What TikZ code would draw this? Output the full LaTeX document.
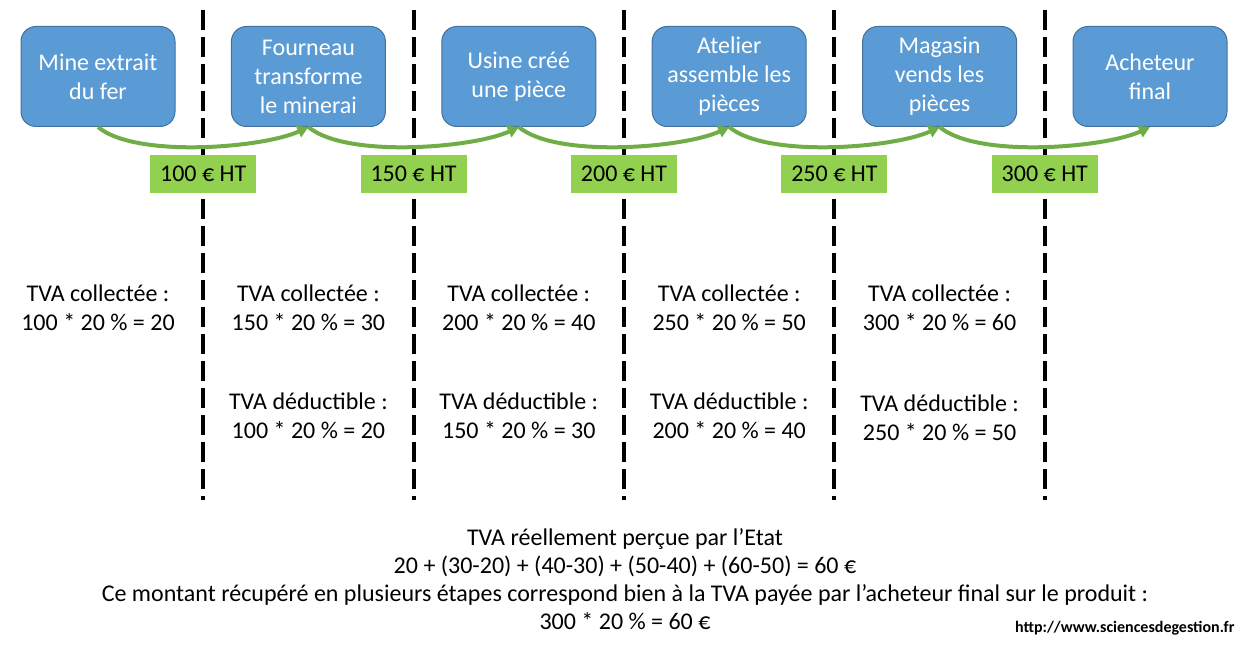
\documentclass[tikz,border=0pt]{standalone}
\usepackage{fontspec}
\setmainfont{Carlito}
\usetikzlibrary{positioning, arrows.meta, calc}

\definecolor{bleu}{HTML}{5B9BD5}
\definecolor{bleufonce}{HTML}{41719C}
\definecolor{vert}{HTML}{70AD47}
\definecolor{vertclair}{HTML}{92D050}

\begin{document}
\begin{tikzpicture}[x=1pt,y=1pt,node distance=210.4pt,on grid,
    etape/.style={rectangle,rounded corners=15pt,fill=bleu,draw=bleufonce,line width=1pt,
      minimum width=154pt,minimum height=100pt,text=white,align=center,
      font=\fontsize{24}{29}\selectfont},
    prix/.style={fill=vertclair,minimum width=106pt,minimum height=38pt,inner sep=0pt,
      font=\fontsize{24}{29}\selectfont},
    calcul/.style={align=center,font=\fontsize{24}{29}\selectfont},
    fleche/.style={-{Triangle[length=11pt,width=12pt]},draw=vert,line width=4pt},
    pointille/.style={draw=black,line width=4pt,dash pattern=on 20pt off 7pt}]
    \useasboundingbox (0,0) rectangle (1251,-655);

    %%% NOEUDS (étapes) %%%
    \node[etape] (mine)                        at (98,-76.5) {Mine extrait\\du fer};
    \node[etape] (fourneau) [right=of mine]     {Fourneau\\transforme\\le minerai};
    \node[etape] (usine)    [right=of fourneau] {Usine créé\\une pièce};
    \node[etape] (atelier)  [right=of usine]    {Atelier\\assemble les\\pièces};
    \node[etape] (magasin)  [right=of atelier]  {Magasin\\vends les\\pièces};
    \node[etape] (acheteur) [right=of magasin]  {Acheteur\\final};

    %%% SEPARATIONS %%%
    \foreach \a/\b [count=\i] in {mine/fourneau, fourneau/usine, usine/atelier,
                                  atelier/magasin, magasin/acheteur} {
        \coordinate (s\i) at ($(\a)!.5!(\b)$);
        \draw[pointille] ($(s\i)+(0,66.5)$) -- ($(s\i)+(0,-423.5)$);
    }

    %%% VENTES %%%
    \foreach \a/\b in {mine/fourneau, fourneau/usine, usine/atelier,
                       atelier/magasin, magasin/acheteur}
        \draw[fleche] (\a.south) to[out=-40,in=-155,looseness=0.6] (\b.south);

    % Prix hors taxe
    \foreach \i/\v in {1/100, 2/150, 3/200, 4/250, 5/300}
        \node[prix] (p\i) at ($(s\i)+(0,-97.5)$) {\v\ € HT};

    %%% CALCULS DE TVA %%%
    % TVA collectée
    \node[calcul] (tc1) [below=231pt of mine]     {TVA collectée :\\100 * 20 \% = 20};
    \node[calcul] (tc2) [below=231pt of fourneau] {TVA collectée :\\150 * 20 \% = 30};
    \node[calcul] (tc3) [below=231pt of usine]    {TVA collectée :\\200 * 20 \% = 40};
    \node[calcul] (tc4) [below=231pt of atelier]  {TVA collectée :\\250 * 20 \% = 50};
    \node[calcul] (tc5) [below=231pt of magasin]  {TVA collectée :\\300 * 20 \% = 60};

    % TVA déductible
    \node[calcul] (td2) [below=108pt of tc2] {TVA déductible :\\100 * 20 \% = 20};
    \node[calcul] (td3) [below=108pt of tc3] {TVA déductible :\\150 * 20 \% = 30};
    \node[calcul] (td4) [below=108pt of tc4] {TVA déductible :\\200 * 20 \% = 40};
    \node[calcul] (td5) [below=110pt of tc5] {TVA déductible :\\250 * 20 \% = 50};

    %%% BILAN %%%
    \node[calcul,font=\fontsize{24}{28}\selectfont] (bilan) at (625,-579)
        {TVA réellement perçue par l’Etat\\
         20 + (30-20) + (40-30) + (50-40) + (60-50) = 60 €\\
         Ce montant récupéré en plusieurs étapes correspond bien à la TVA payée par l’acheteur final sur le produit :\\
         300 * 20 \% = 60 €};
    \node[font=\bfseries\fontsize{16}{19}\selectfont,anchor=east] (site) at (1238,-628)
        {http://www.sciencesdegestion.fr};
\end{tikzpicture}
\end{document}
